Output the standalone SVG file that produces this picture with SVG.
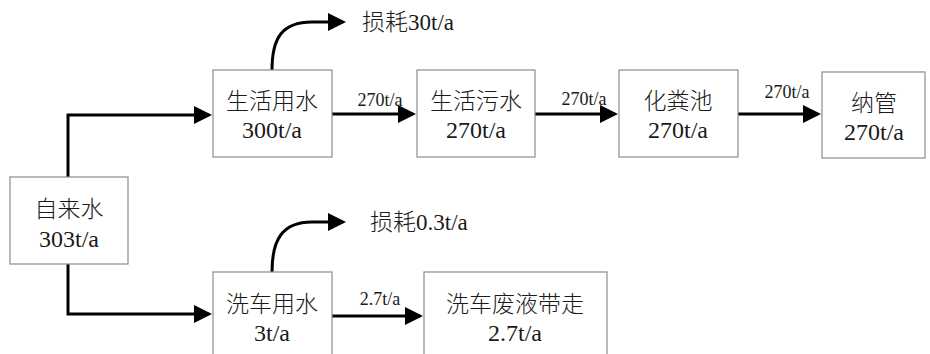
<svg xmlns="http://www.w3.org/2000/svg" width="930" height="354" viewBox="0 0 930 354">
<defs>
<marker id="ah" markerWidth="6" markerHeight="6" refX="5" refY="3" orient="auto" markerUnits="strokeWidth">
<path d="M0,0 L6,3 L0,6 Z" fill="#000"/>
</marker>
<style>
.box{fill:#fff;stroke:#8c8c8c;stroke-width:1.2}
.t{font-family:"Liberation Serif","Noto Sans CJK SC",serif;font-size:23px;font-weight:300;fill:#1a1a1a;text-anchor:middle}
.n{font-family:"Liberation Serif",serif;font-size:24px;fill:#1a1a1a;text-anchor:middle}
.s{font-family:"Liberation Serif",serif;font-size:18px;fill:#1a1a1a;text-anchor:middle}
.l{font-family:"Liberation Serif","Noto Sans CJK SC",serif;font-size:23px;font-weight:300;fill:#1a1a1a}
.c{fill:none;stroke:#000;stroke-width:3;marker-end:url(#ah)}
</style>
</defs>
<rect width="930" height="354" fill="#fff"/>
<g id="connectors">
<path class="c" d="M68,177 V115 H209"/>
<path class="c" d="M68,264 V314 H209"/>
<path class="c" d="M332,114 H413"/>
<path class="c" d="M535,114 H615"/>
<path class="c" d="M738,114 H818"/>
<path class="c" d="M332,316 H420"/>
<path class="c" d="M272,70 C272,38 282,22 312,22 H343"/>
<path class="c" d="M272,272 C272,240 282,222 312,222 H343"/>
</g>
<g id="zilaishui"><rect class="box" x="10" y="177" width="118" height="87"/><text class="t" x="69" y="217">自来水</text><text class="n" x="69" y="247">303t/a</text></g>
<g id="shenghuoyongshui"><rect class="box" x="213" y="70" width="119" height="87"/><text class="t" x="272" y="109">生活用水</text><text class="n" x="272" y="138">300t/a</text></g>
<g id="shenghuowushui"><rect class="box" x="417" y="70" width="118" height="87"/><text class="t" x="476" y="109">生活污水</text><text class="n" x="476" y="138">270t/a</text></g>
<g id="huafenchi"><rect class="box" x="619" y="70" width="119" height="87"/><text class="t" x="678" y="109">化粪池</text><text class="n" x="678" y="138">270t/a</text></g>
<g id="naguan"><rect class="box" x="822" y="72" width="103" height="86"/><text class="t" x="874" y="111">纳管</text><text class="n" x="874" y="140">270t/a</text></g>
<g id="xicheyongshui"><rect class="box" x="213" y="272" width="119" height="90"/><text class="t" x="272" y="312">洗车用水</text><text class="n" x="272" y="341">3t/a</text></g>
<g id="xichefeiye"><rect class="box" x="424" y="272" width="183" height="90"/><text class="t" x="515" y="312">洗车废液带走</text><text class="n" x="515" y="341">2.7t/a</text></g>
<g id="sunhao1"><text class="l" x="362" y="30">损耗30t/a</text></g>
<g id="sunhao2"><text class="l" x="370" y="230">损耗0.3t/a</text></g>
<g id="labels">
<text class="s" x="380" y="106">270t/a</text>
<text class="s" x="584" y="105">270t/a</text>
<text class="s" x="787" y="98">270t/a</text>
<text class="s" x="380" y="305">2.7t/a</text>
</g>
</svg>
